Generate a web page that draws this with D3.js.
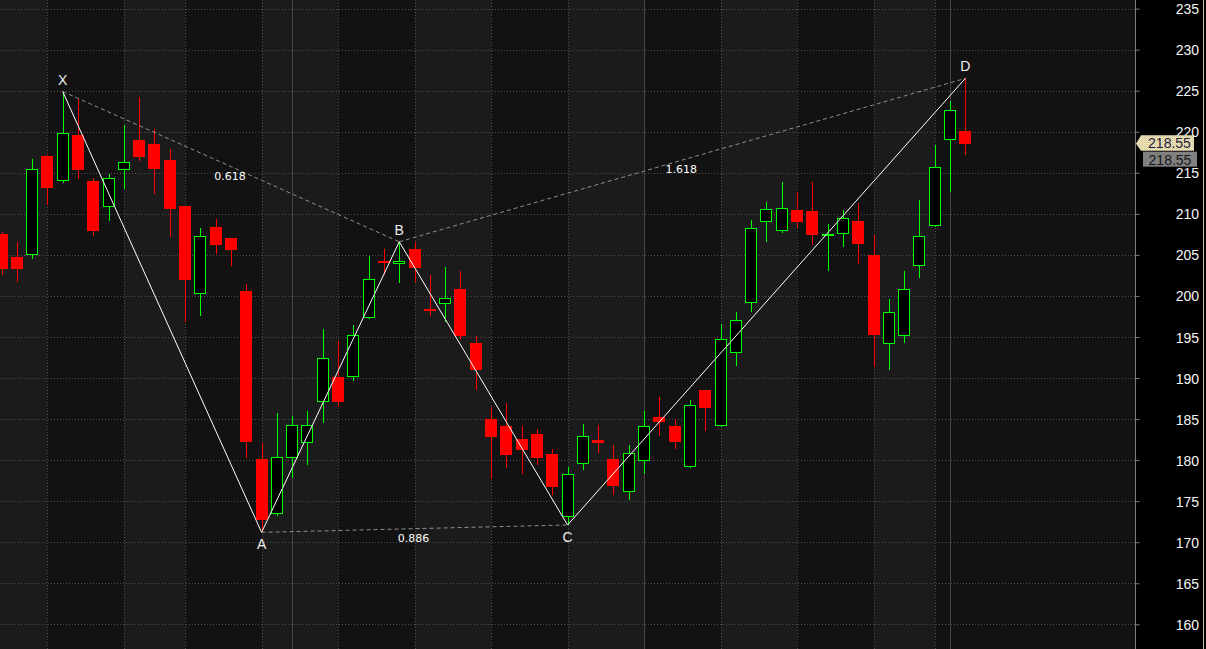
<!DOCTYPE html>
<html><head><meta charset="utf-8">
<script src="https://cdn.jsdelivr.net/npm/d3@7"></script>
<style>html,body{margin:0;padding:0;background:#000;overflow:hidden}</style>
</head><body><svg id="chart" width="1206" height="649"></svg>
<script>
// ---- data ----
const openP  = [207.6,204.8,205.0,217.1,214.0,219.6,214.0,210.8,215.3,219.0,218.5,216.6,211.0,200.2,208.4,207.1,200.6,180.1,173.4,180.2,182.1,187.1,190.1,190.1,197.3,204.2,203.9,205.7,198.4,199.0,200.9,194.3,185.0,184.2,182.6,183.2,180.7,173.1,179.5,182.4,180.1,176.1,179.9,185.2,184.2,179.2,188.5,184.1,193.0,199.1,209.0,207.9,210.5,210.3,207.4,207.6,209.1,205.0,194.1,195.1,203.6,208.5,219.0,220.1];
const highP  = [207.8,206.6,216.7,217.2,224.9,224.0,214.4,214.9,220.8,224.2,220.3,217.9,211.0,208.3,209.4,207.1,201.4,182.1,185.8,185.4,186.0,196.0,194.5,196.5,204.9,205.7,206.6,206.6,202.6,203.5,203.0,195.1,186.5,187.0,184.1,183.8,181.4,179.2,184.4,184.3,181.9,181.9,186.0,187.7,185.0,187.3,188.6,196.6,198.0,209.2,211.4,213.9,212.7,213.9,208.8,210.5,211.3,207.4,199.6,203.0,211.7,218.4,223.8,226.5];
const lowP   = [202.6,201.7,204.5,211.1,213.8,214.3,207.3,209.1,213.0,216.4,212.4,207.2,196.8,197.6,205.1,203.6,180.3,171.2,173.2,177.8,179.4,184.5,186.5,189.6,197.2,202.6,201.6,201.7,197.5,196.8,194.8,188.5,177.7,179.1,178.3,179.4,175.7,172.1,178.8,180.9,175.7,175.2,178.3,182.9,181.3,179.1,183.5,184.0,191.5,198.1,206.6,207.7,208.3,206.2,203.0,206.0,203.9,191.3,191.0,194.3,202.2,208.4,212.6,217.2];
const closeP = [203.3,203.3,215.5,213.2,219.8,215.3,207.9,214.4,216.3,216.9,215.5,210.6,201.9,207.3,206.2,205.6,182.2,172.7,180.4,184.3,184.3,192.4,187.1,195.3,202.1,204.0,204.2,203.4,198.2,199.8,195.1,191.0,182.8,180.6,181.2,180.3,176.7,178.3,182.9,182.1,176.9,180.9,184.1,184.6,182.2,186.7,186.4,194.7,197.1,208.3,210.6,210.7,209.0,207.4,207.6,209.5,206.3,195.3,198.0,200.8,207.3,215.7,222.6,218.55];
const yTicks = [160,165,170,175,180,185,190,195,200,205,210,215,220,225,230,235];
const weekStarts = [3,8,12,17,22,27,32,37,42,47,52,57,61];
const monthStarts = [19,42,62];
const patternNames = ["X","A","B","C","D"];
const patternIdx = [4,17,26,37,63];
const patternVal = [224.9,171.2,206.6,172.1,226.5];
const ratioLabels = ["0.618","0.886","1.618"];
const ratioFrom = [0,1,2];
const ratioTo = [2,3,4];
const lastPrice = 218.55;

// ---- layout ----
const W = 1206, H = 649, axisX = 1135;
const svg = d3.select("#chart");
const x = d3.scaleLinear().domain([0, 74.09]).range([1.5, axisX]);
const y = d3.scaleLinear().domain([160, 225]).range([624.3, 90.7]);

const defs = svg.append("defs");
defs.append("clipPath").attr("id","plot").append("rect").attr("x",0).attr("y",0).attr("width",axisX).attr("height",H);
const pat = defs.append("pattern").attr("id","tan").attr("width",2).attr("height",2).attr("patternUnits","userSpaceOnUse");
pat.append("rect").attr("width",2).attr("height",2).attr("fill","#f2e4b4");
pat.append("rect").attr("width",1).attr("height",1).attr("fill","#c9c4ae");
pat.append("rect").attr("x",1).attr("y",1).attr("width",1).attr("height",1).attr("fill","#e6d6a2");

const plot = svg.append("g").attr("clip-path","url(#plot)");

// background bands
const bounds = [0, ...weekStarts.map(d => Math.round(x(d))), axisX];
for (let k = 0; k < bounds.length - 1; k++) {
  plot.append("rect").attr("x", bounds[k]).attr("y", 0)
    .attr("width", bounds[k+1] - bounds[k]).attr("height", H)
    .attr("fill", k % 2 === 0 ? "#1b1b1b" : "#121212");
}
// horizontal dotted grid
plot.selectAll("line.hg").data(yTicks).join("line").attr("class","hg")
  .attr("x1",0).attr("x2",axisX)
  .attr("y1",d=>Math.round(y(d))+0.5).attr("y2",d=>Math.round(y(d))+0.5)
  .attr("stroke","#4e4e4e").attr("stroke-dasharray","1,2");
// vertical dotted week lines
plot.selectAll("line.vg").data(weekStarts.filter(d=>!monthStarts.includes(d))).join("line").attr("class","vg")
  .attr("x1",d=>Math.round(x(d))+0.5).attr("x2",d=>Math.round(x(d))+0.5)
  .attr("y1",0).attr("y2",H)
  .attr("stroke","#4e4e4e").attr("stroke-dasharray","1,2");
// month solid lines
plot.selectAll("line.mg").data(monthStarts).join("line").attr("class","mg")
  .attr("x1",d=>Math.round(x(d))+0.5).attr("x2",d=>Math.round(x(d))+0.5)
  .attr("y1",0).attr("y2",H)
  .attr("stroke","#444444");

// candles
const GREEN = "#00ff00", RED = "#ff0000";
const candles = plot.append("g").attr("shape-rendering","crispEdges");
openP.forEach((o, i) => {
  const c = closeP[i], h = highP[i], l = lowP[i];
  const up = c >= o;
  const cx = Math.round(x(i));
  const top = Math.round(y(Math.max(o,c)));
  let bot = Math.round(y(Math.min(o,c)));
  if (bot - top < 2) bot = top + 2;
  const col = up ? GREEN : RED;
  if (up) {
    candles.append("line").attr("x1",cx+0.5).attr("x2",cx+0.5).attr("y1",Math.round(y(h))).attr("y2",top).attr("stroke",col);
    candles.append("line").attr("x1",cx+0.5).attr("x2",cx+0.5).attr("y1",bot).attr("y2",Math.round(y(l))).attr("stroke",col);
    candles.append("rect").attr("x",cx-5.5).attr("y",top+0.5).attr("width",11).attr("height",Math.max(1,bot-top-1))
      .attr("fill","#000").attr("stroke",col);
  } else {
    candles.append("line").attr("x1",cx+0.5).attr("x2",cx+0.5).attr("y1",Math.round(y(h))).attr("y2",Math.round(y(l))).attr("stroke",col);
    candles.append("rect").attr("x",cx-6).attr("y",top).attr("width",12).attr("height",bot-top).attr("fill",col);
  }
});

// harmonic pattern
const pts = patternIdx.map((d,k)=>[x(d), y(patternVal[k])]);
ratioFrom.forEach((a,k)=>{
  const b = ratioTo[k];
  plot.append("line").attr("x1",pts[a][0]).attr("y1",pts[a][1]).attr("x2",pts[b][0]).attr("y2",pts[b][1])
    .attr("stroke","#8e8e8e").attr("stroke-dasharray","4,3");
});
plot.append("path").attr("d", d3.line()(pts)).attr("fill","none").attr("stroke","#ffffff").attr("stroke-width",1);
ratioFrom.forEach((a,k)=>{
  const b = ratioTo[k];
  plot.append("text").attr("x",(pts[a][0]+pts[b][0])/2 - 1).attr("y",(pts[a][1]+pts[b][1])/2 + 13)
    .attr("text-anchor","middle").attr("fill","#ffffff")
    .attr("font-family","'DejaVu Sans', Verdana, sans-serif").attr("font-size","11px").text(ratioLabels[k]);
});
patternNames.forEach((n,k)=>{
  const above = k % 2 === 0;
  plot.append("text").attr("x",pts[k][0]).attr("y", above ? pts[k][1]-7 : pts[k][1]+17)
    .attr("text-anchor","middle").attr("fill","#eeeeee")
    .attr("font-family","'Liberation Sans', Arial, sans-serif").attr("font-size","14px").text(n);
});

// price axis
svg.append("rect").attr("x",axisX).attr("y",0).attr("width",W-axisX).attr("height",H).attr("fill","#000");
const ax = svg.append("g").attr("transform",`translate(${axisX+0.5},0)`)
  .call(d3.axisRight(y).tickValues(yTicks).tickSize(4).tickFormat(d3.format("d")));
ax.select(".domain").attr("stroke","#7c7c7c").attr("d",`M0,0V${H}`);
ax.selectAll(".tick line").attr("stroke","#7c7c7c");
ax.selectAll(".tick text").attr("x",63.5).attr("text-anchor","end").attr("dy","0.36em")
  .attr("fill","#f4f4f4").attr("font-family","'Liberation Sans', Arial, sans-serif").attr("font-size","14px");
svg.append("line").attr("x1",1203.5).attr("x2",1203.5).attr("y1",0).attr("y2",H).attr("stroke","#cdbf98");

// last price tags
const yp = y(lastPrice);
svg.append("path").attr("d",`M${axisX+1},${yp} L${axisX+6},${yp-8.5} L${1194},${yp-8.5} L${1194},${yp+7} L${axisX+6},${yp+7} Z`)
  .attr("fill","url(#tan)");
svg.append("text").attr("x",1169.5).attr("y",yp+4.8).attr("text-anchor","middle").attr("fill","#1c1c3c")
  .attr("font-family","'Liberation Sans', Arial, sans-serif").attr("font-size","14px").text(d3.format(".2f")(lastPrice));
svg.append("rect").attr("x",1143).attr("y",yp+8).attr("width",54).attr("height",15).attr("fill","#808080");
svg.append("text").attr("x",1170).attr("y",yp+21).attr("text-anchor","middle").attr("fill","#161616")
  .attr("font-family","'Liberation Sans', Arial, sans-serif").attr("font-size","14px").text(d3.format(".2f")(lastPrice));
</script>
</body></html>
